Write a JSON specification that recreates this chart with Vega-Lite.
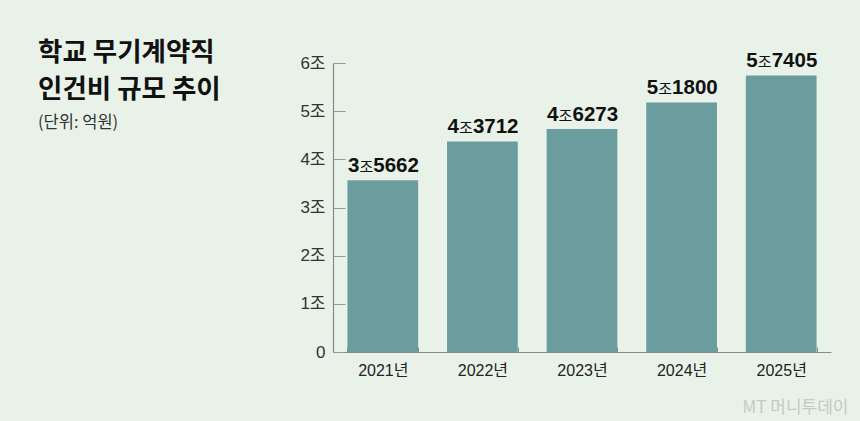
{
  "$schema": "https://vega.github.io/schema/vega-lite/v6.json",
  "autosize": "none",
  "width": 498,
  "height": 289,
  "padding": {"left": 333, "top": 63, "right": 29, "bottom": 69},
  "background": "#e9f2e8",
  "config": {
    "view": {"stroke": null},
    "font": "Liberation Sans, Noto Sans CJK KR"
  },
  "title": {
    "text": ["학교 무기계약직", "인건비 규모 추이"],
    "subtitle": "(단위: 억원)",
    "anchor": "start",
    "frame": "group",
    "orient": "top",
    "dx": -295,
    "dy": 84,
    "font": "Noto Sans CJK KR",
    "fontSize": 26.5,
    "fontWeight": "bold",
    "color": "#111111",
    "lineHeight": 37,
    "subtitleFont": "Noto Sans CJK KR",
    "subtitleFontSize": 16.5,
    "subtitleColor": "#333333",
    "subtitlePadding": 11
  },
  "data": {
    "values": [
      {"year": "2021년", "value": 35662, "jo": "3", "rest": "5662"},
      {"year": "2022년", "value": 43712, "jo": "4", "rest": "3712"},
      {"year": "2023년", "value": 46273, "jo": "4", "rest": "6273"},
      {"year": "2024년", "value": 51800, "jo": "5", "rest": "1800"},
      {"year": "2025년", "value": 57405, "jo": "5", "rest": "7405"}
    ]
  },
  "encoding": {
    "x": {
      "field": "year",
      "type": "nominal",
      "sort": null,
      "scale": {"paddingInner": 0.29, "paddingOuter": 0.145},
      "axis": {
        "title": "MT 머니투데이",
        "titleFont": "Noto Sans CJK KR",
        "titleFontSize": 17,
        "titleFontWeight": "normal",
        "titleColor": "#c3ccc2",
        "titleAnchor": "end",
        "titleAlign": "right",
        "titleBaseline": "alphabetic",
        "titleX": 515,
        "titleY": 60,
        "labelAngle": 0,
        "labelFont": "Liberation Sans, Noto Sans CJK KR",
        "labelFontSize": 16,
        "labelColor": "#222222",
        "labelPadding": 15,
        "tickBand": "extent",
        "tickSize": -5,
        "tickColor": "#888888",
        "domainColor": "#888888",
        "domainWidth": 1.2
      }
    },
    "y": {
      "field": "value",
      "type": "quantitative",
      "scale": {"domain": [0, 60000]},
      "axis": {
        "title": null,
        "values": [0, 10000, 20000, 30000, 40000, 50000, 60000],
        "labelExpr": "datum.value == 0 ? '0' : (datum.value / 10000) + '조'",
        "labelFont": "Liberation Sans, Noto Sans CJK KR",
        "labelFontSize": 17,
        "labelColor": "#333333",
        "labelPadding": 20,
        "tickSize": -12,
        "tickColor": "#999999",
        "domainColor": "#888888",
        "domainWidth": 1.2,
        "grid": false
      }
    }
  },
  "layer": [
    {"mark": {"type": "bar", "color": "#6b9d9e"}},
    {
      "mark": {"type": "text", "align": "right", "baseline": "alphabetic", "dx": -23.5, "dy": -8, "font": "Liberation Sans", "fontSize": 20.5, "fontWeight": "bold", "color": "#111111"},
      "encoding": {"text": {"field": "jo"}}
    },
    {
      "mark": {"type": "text", "align": "center", "baseline": "alphabetic", "dx": -16.5, "dy": -8, "font": "Noto Sans CJK KR", "fontSize": 15, "fontWeight": "normal", "color": "#111111"},
      "encoding": {"text": {"value": "조"}}
    },
    {
      "mark": {"type": "text", "align": "left", "baseline": "alphabetic", "dx": -9.5, "dy": -8, "font": "Liberation Sans", "fontSize": 20.5, "fontWeight": "bold", "color": "#111111"},
      "encoding": {"text": {"field": "rest"}}
    }
  ]
}
